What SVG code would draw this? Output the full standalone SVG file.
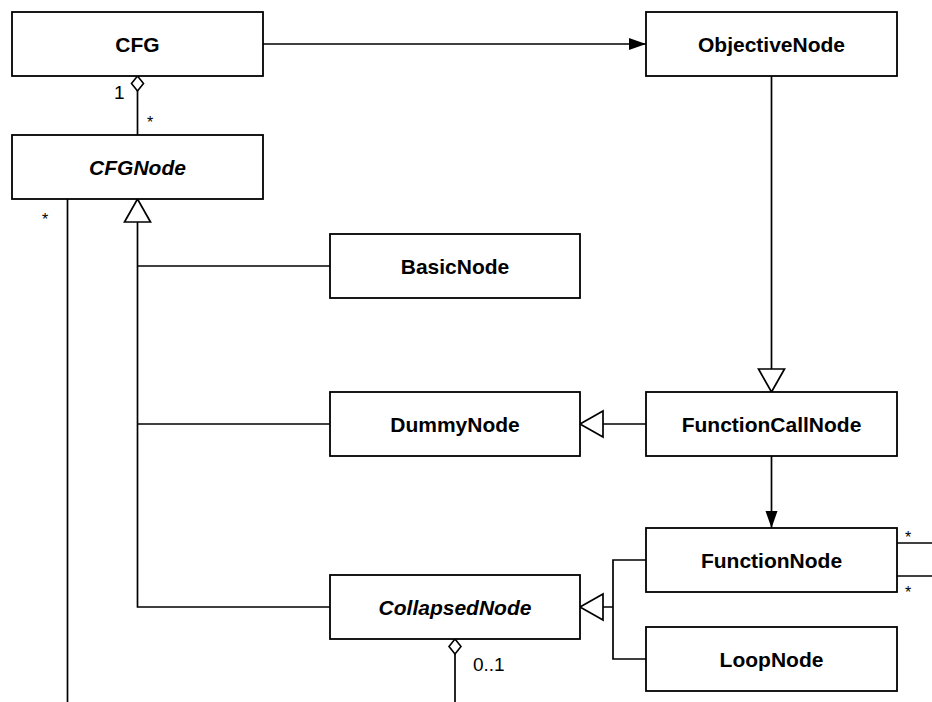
<svg xmlns="http://www.w3.org/2000/svg" width="932" height="702" viewBox="0 0 932 702">
  <style>
    .box { fill: #ffffff; stroke: #000000; stroke-width: 1.8; }
    .name { font-family: "Liberation Sans", Arial, Helvetica, sans-serif; font-size: 21px; font-weight: bold; text-anchor: middle; fill: #000000; }
    .abstract { font-style: italic; }
    .mult { font-family: "Liberation Sans", Arial, Helvetica, sans-serif; font-size: 19px; fill: #000000; }
    .star { font-size: 16px; }
    .link { fill: none; stroke: #000000; stroke-width: 1.7; }
  </style>
  <defs>
    <!-- filled navigation arrow -->
    <marker id="arrow" markerUnits="userSpaceOnUse" markerWidth="18" markerHeight="13" refX="17" refY="6" orient="auto" overflow="visible">
      <path d="M0,0 L17,6 L0,12 Z" fill="#000000" stroke="none"/>
    </marker>
    <!-- hollow generalization triangle -->
    <marker id="inherit" markerUnits="userSpaceOnUse" markerWidth="26" markerHeight="28" refX="24" refY="14" orient="auto" overflow="visible">
      <path d="M1,1 L24,14 L1,27 Z" fill="#ffffff" stroke="#000000" stroke-width="1.7"/>
    </marker>
    <!-- hollow aggregation diamond -->
    <marker id="diamond" markerUnits="userSpaceOnUse" markerWidth="16" markerHeight="13" refX="0" refY="6" orient="auto" overflow="visible">
      <path d="M0,6 L7.5,0 L15,6 L7.5,12 Z" fill="#ffffff" stroke="#000000" stroke-width="1.6"/>
    </marker>
  </defs>

  <g id="connectors">
    <path class="link" d="M263,44 L646,44" marker-end="url(#arrow)"/>
    <path class="link" d="M137.5,76 L137.5,135" marker-start="url(#diamond)"/>
    <path class="link" d="M67.5,199 L67.5,702"/>
    <path class="link" d="M137.5,266 L330,266"/>
    <path class="link" d="M137.5,424 L330,424"/>
    <path class="link" d="M330,607 L137.5,607 L137.5,199" marker-end="url(#inherit)"/>
    <path class="link" d="M771.5,76 L771.5,392" marker-end="url(#inherit)"/>
    <path class="link" d="M646,424 L580,424" marker-end="url(#inherit)"/>
    <path class="link" d="M771.5,456 L771.5,528" marker-end="url(#arrow)"/>
    <path class="link" d="M646,560 L613,560 L613,659 L646,659"/>
    <path class="link" d="M613,607 L580,607" marker-end="url(#inherit)"/>
    <path class="link" d="M896,543 L932,543"/>
    <path class="link" d="M896,576 L932,576"/>
    <path class="link" d="M455,639 L455,702" marker-start="url(#diamond)"/>
    <text class="mult" x="114" y="99">1</text>
    <text class="mult star" x="147" y="128">*</text>
    <text class="mult star" x="42" y="225">*</text>
    <text class="mult star" x="905" y="543">*</text>
    <text class="mult star" x="905" y="598">*</text>
    <text class="mult" x="473" y="671">0..1</text>
  </g>

  <g id="CFG">
    <rect class="box" x="12" y="12" width="251" height="64"/>
    <text class="name" x="137.5" y="51.5">CFG</text>
  </g>
  <g id="ObjectiveNode">
    <rect class="box" x="646" y="12" width="251" height="64"/>
    <text class="name" x="771.5" y="51.5">ObjectiveNode</text>
  </g>
  <g id="CFGNode">
    <rect class="box" x="12" y="135" width="251" height="64"/>
    <text class="name abstract" x="137.5" y="174.5">CFGNode</text>
  </g>
  <g id="BasicNode">
    <rect class="box" x="330" y="234" width="250" height="64"/>
    <text class="name" x="455" y="273.5">BasicNode</text>
  </g>
  <g id="DummyNode">
    <rect class="box" x="330" y="392" width="250" height="64"/>
    <text class="name" x="455" y="431.5">DummyNode</text>
  </g>
  <g id="FunctionCallNode">
    <rect class="box" x="646" y="392" width="251" height="64"/>
    <text class="name" x="771.5" y="431.5">FunctionCallNode</text>
  </g>
  <g id="FunctionNode">
    <rect class="box" x="646" y="528" width="251" height="64"/>
    <text class="name" x="771.5" y="567.5">FunctionNode</text>
  </g>
  <g id="CollapsedNode">
    <rect class="box" x="330" y="575" width="250" height="64"/>
    <text class="name abstract" x="455" y="614.5">CollapsedNode</text>
  </g>
  <g id="LoopNode">
    <rect class="box" x="646" y="627" width="251" height="64"/>
    <text class="name" x="771.5" y="666.5">LoopNode</text>
  </g>
</svg>
